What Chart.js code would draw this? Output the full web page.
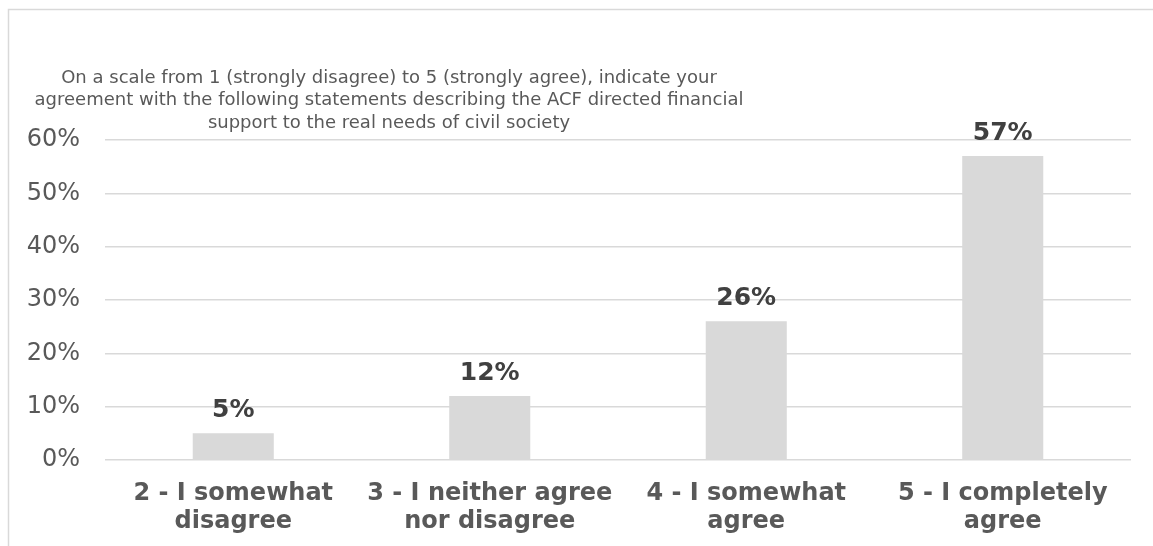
<!DOCTYPE html>
<html>
<head>
<meta charset="utf-8">
<script src="https://cdn.jsdelivr.net/npm/chart.js@4"></script>
<style>
  html, body { margin: 0; padding: 0; background: #fff; }
  #wrap { width: 1153px; height: 546px; }
</style>
</head>
<body>
<div id="wrap"><canvas id="agreeChart"></canvas></div>
<script>
const categories = [
    ['2 - I somewhat', 'disagree'],
    ['3 - I neither agree', 'nor disagree'],
    ['4 - I somewhat', 'agree'],
    ['5 - I completely', 'agree']
];
const shares = [5, 12, 26, 57];
const titleLines = [
    'On a scale from 1 (strongly disagree) to 5 (strongly agree), indicate your',
    'agreement with the following statements describing the ACF directed financial',
    'support to the real needs of civil society'
];

const FONT = '"DejaVu Sans", Verdana, sans-serif';

// frame + title drawn before the chart
const framePlugin = {
    id: 'framePlugin',
    beforeDraw(chart) {
        const ctx = chart.ctx;
        ctx.save();
        ctx.strokeStyle = '#d9d9d9';
        ctx.lineWidth = 1.5;
        ctx.beginPath();
        ctx.moveTo(8.5, 546);
        ctx.lineTo(8.5, 9.5);
        ctx.lineTo(1153, 9.5);
        ctx.stroke();

        ctx.fillStyle = '#595959';
        ctx.font = '18px ' + FONT;
        ctx.textAlign = 'center';
        ctx.textBaseline = 'middle';
        titleLines.forEach((line, i) => {
            ctx.fillText(line, 389, 78 + i * 22.5);
        });
        ctx.restore();
    }
};

// value labels above the bars
const valuePlugin = {
    id: 'valuePlugin',
    afterDatasetsDraw(chart) {
        const ctx = chart.ctx;
        const meta = chart.getDatasetMeta(0);
        ctx.save();
        ctx.fillStyle = '#404040';
        ctx.font = 'bold 25px ' + FONT;
        ctx.textAlign = 'center';
        ctx.textBaseline = 'alphabetic';
        meta.data.forEach((bar, i) => {
            ctx.fillText(shares[i] + '%', bar.x, bar.y - 16);
        });
        ctx.restore();
    }
};

new Chart(document.getElementById('agreeChart'), {
    type: 'bar',
    data: {
        labels: categories,
        datasets: [{
            data: shares,
            backgroundColor: '#d9d9d9',
            borderWidth: 0,
            categoryPercentage: 1,
            barPercentage: 0.316
        }]
    },
    options: {
        responsive: true,
        maintainAspectRatio: false,
        animation: false,
        layout: { padding: { top: 140, right: 22, bottom: 0, left: 0 } },
        plugins: {
            legend: { display: false },
            tooltip: { enabled: false }
        },
        scales: {
            x: {
                grid: { display: false, drawTicks: false },
                border: { display: false },
                ticks: {
                    color: '#595959',
                    font: { family: FONT, size: 24, weight: 'bold', lineHeight: 1.17 },
                    padding: 20,
                    maxRotation: 0,
                    autoSkip: false
                },
                afterFit(scale) { scale.height = 86; }
            },
            y: {
                min: 0,
                max: 60,
                grid: { color: '#d9d9d9', lineWidth: 1.5, drawTicks: false },
                border: { display: false },
                ticks: {
                    stepSize: 10,
                    color: '#595959',
                    font: { family: FONT, size: 24 },
                    padding: 25,
                    callback: v => v + '%'
                },
                afterFit(scale) { scale.width = 105; }
            }
        }
    },
    plugins: [framePlugin, valuePlugin]
});
</script>
</body>
</html>
